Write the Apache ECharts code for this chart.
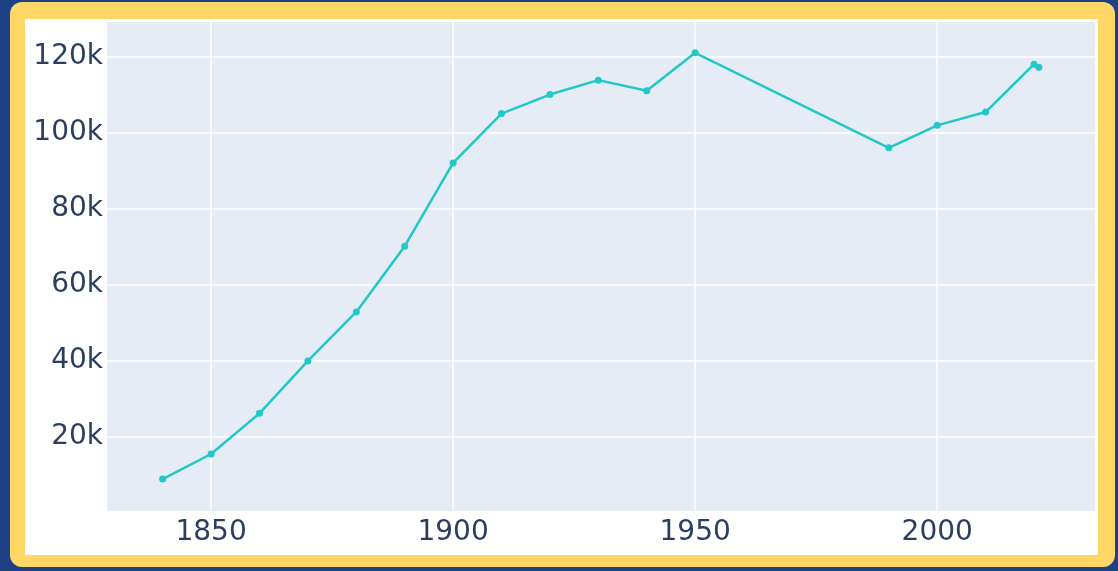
<!DOCTYPE html>
<html lang="en">
<head>
    <meta charset="UTF-8">
    <title>Population</title>
    <script src="https://cdn.jsdelivr.net/npm/echarts@6/dist/echarts.min.js"></script>
    <style>
        html, body { margin: 0; padding: 0; }
        body { width: 1118px; height: 571px; background: #1d4184; position: relative; overflow: hidden; }
        .frame { position: absolute; left: 10px; top: 2px; width: 1105px; height: 565px; background: #fed766; border-radius: 12px; }
        .inner { position: absolute; left: 25px; top: 19px; width: 1073px; height: 536px; background: #ffffff; }
        #main { position: absolute; left: 0; top: 0; width: 1118px; height: 571px; }
    </style>
</head>
<body>
    <div class="frame"></div>
    <div class="inner"></div>
    <div id="main"></div>
    <script>
        // years and population
        var years = [1840, 1850, 1860, 1870, 1880, 1890, 1900, 1910, 1920, 1930, 1940, 1950, 1990, 2000, 2010, 2020, 2021];
        var population = [8900, 15500, 26200, 40000, 52900, 70200, 92100, 105100, 110100, 113900, 111100, 121100, 96100, 102000, 105500, 118100, 117300];
        var xTicks = [1850, 1900, 1950, 2000];
        var yTicks = [20000, 40000, 60000, 80000, 100000, 120000];

        var points = years.map(function (y, i) { return [y, population[i]]; });

        var myChart = echarts.init(document.getElementById('main'));
        var font = 'DejaVu Sans';
        var option = {
            animation: false,
            grid: {
                left: 107, right: 23, top: 22, bottom: 60,
                show: true,
                backgroundColor: '#e5ecf6',
                borderWidth: 0
            },
            xAxis: {
                type: 'value',
                min: 1828.5,
                max: 2032.6,
                axisLine: { show: false },
                axisTick: { show: false, customValues: xTicks },
                axisLabel: {
                    customValues: xTicks,
                    color: '#2a3f5f',
                    fontFamily: font,
                    fontSize: 28,
                    margin: 8,
                    formatter: function (v) { return String(v); }
                },
                splitLine: { show: true, lineStyle: { color: '#ffffff', width: 1.5 } }
            },
            yAxis: {
                type: 'value',
                min: 500,
                max: 129200,
                axisLine: { show: false },
                axisTick: { show: false, customValues: yTicks },
                axisLabel: {
                    customValues: yTicks,
                    color: '#2a3f5f',
                    fontFamily: font,
                    fontSize: 28,
                    margin: 4,
                    formatter: function (v) { return (v / 1000) + 'k'; }
                },
                splitLine: { show: true, lineStyle: { color: '#ffffff', width: 1.5 } }
            },
            series: [{
                type: 'line',
                data: points,
                symbol: 'circle',
                symbolSize: 7,
                lineStyle: { color: '#22c8c8', width: 2.5 },
                itemStyle: { color: '#22c8c8' }
            }]
        };
        myChart.setOption(option);
    </script>
</body>
</html>
